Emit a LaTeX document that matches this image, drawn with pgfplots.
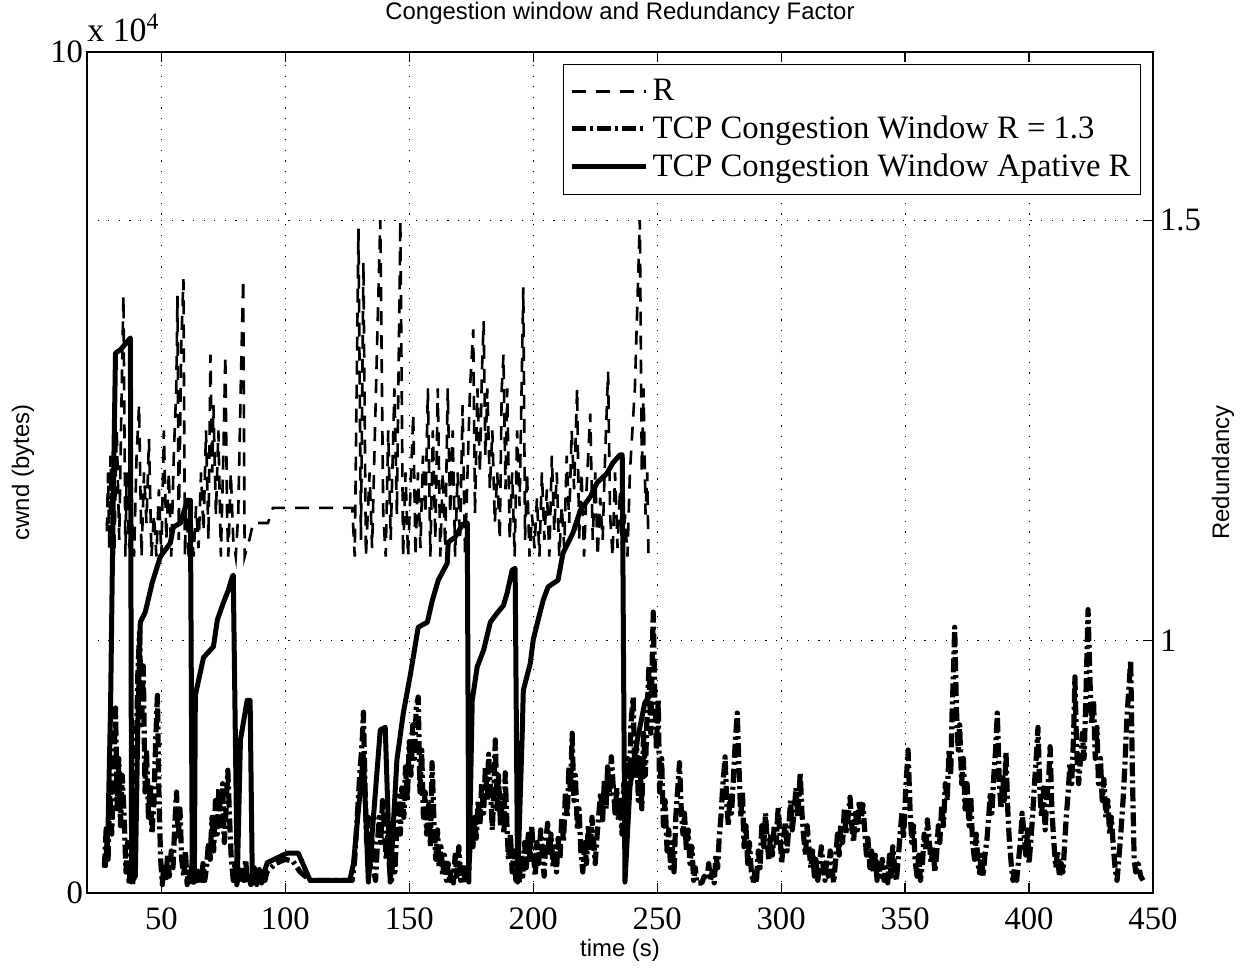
\documentclass[border=0pt]{standalone}
\usepackage{fontspec}
\setmainfont{Liberation Serif}
\newfontfamily\arial{Liberation Sans}
\usepackage{pgfplots}
\pgfplotsset{compat=1.18}
\begin{document}
\begin{tikzpicture}
\pgfplotsset{
  mygrid/.style={black, line width=0.5bp, dash pattern=on 0.6bp off 4.7bp},
}
\begin{axis}[
  at={(0,0)}, anchor=south west,
  scale only axis, width=533bp, height=420.5bp,
  xmin=20, xmax=450, ymin=0, ymax=100000,
  xtick={50,100,...,450},
  ytick={0,100000}, yticklabels={0,10},
  scaled y ticks=false,
  tick align=inside, xtick pos=both, ytick pos=left, xticklabel pos=lower,
  major tick length=5bp,
  tick style={black, line width=0.6bp},
  xmajorgrids, grid style={mygrid},
  axis line style={line width=0.8bp},
  /pgf/number format/assume math mode=true,
  tick label style={font=\fontsize{16.4}{19}\selectfont},
  xticklabel style={yshift=-4bp},
  yticklabel style={xshift=1.5bp},
  xlabel={time (s)},
  xlabel style={at={(axis description cs:0.5,-0.0678)}, anchor=center, font=\arial\fontsize{12}{14}\selectfont},
  ylabel={cwnd (bytes)},
  ylabel style={at={(axis description cs:-0.0600,0.5)}, anchor=center, font=\arial\fontsize{12}{14}\selectfont},
  title={Congestion window and Redundancy Factor},
  title style={at={(axis description cs:0.5,1.025)}, anchor=base, font=\arial\fontsize{12}{14}\selectfont},
  clip=true,
]
% TCP congestion window R = 1.3 (dash-dot)
\addplot[black, line width=2.6bp, line join=round, dash pattern=on 7bp off 2bp on 1.5bp off 2bp] coordinates {
(27,3000) (27.8,8000) (28.5,4000) (29.2,12000) (30,7000) (30.8,15000) (31.5,22000) (32.2,10000) (32.8,16000) (33.5,8000) (34.2,14000) (35,9000) (35.7,2500) (36.4,6000) (37,1000) (37.7,4000) (38.4,1000) (39,8000) (39.8,15000) (40.5,26000) (41.2,31000) (42,20000) (42.7,27000) (43.4,12000) (44,17000) (44.8,9000) (45.5,13000) (46.2,7000) (47,11000) (47.7,18000) (48.4,23500) (49,12000) (49.7,4000) (50.4,1000) (51,3500) (51.8,1500) (52.5,4500) (53.2,2000) (54,5000) (54.7,3000) (55.4,8000) (56.1,12000) (56.8,6500) (57.5,10000) (58.2,4000) (59,2000) (59.7,5000) (60.4,1000) (61,3000) (61.8,1000) (62.5,4000) (63.2,1500) (64,3000) (64.7,1000) (65.4,2500) (66,1000) (66.8,3500) (67.5,1500) (68.2,3000) (69,6000) (69.7,4000) (70.4,9000) (71.1,5000) (71.8,11000) (72.5,7000) (73.2,12500) (74,8000) (74.7,13000) (75.4,6000) (76.1,10000) (76.8,14600) (77.5,9000) (78.2,4000) (79,1500) (79.7,3500) (80.4,1000) (81.1,2500) (81.8,1200) (82.5,3000) (83.2,1500) (84,4000) (84.7,1200) (85.4,2000) (86.1,1000) (86.8,2500) (87.5,1200) (88.2,2800) (89,1000) (89.7,2200) (90.4,1200) (91.1,2500) (91.8,1500) (92.5,2500) (96,3500) (100,4000) (103,3800) (106,2500) (110,1500) (126,1500)
(127,1500) (128,4000) (129,9000) (130,14000) (131,18000) (131.5,21500) (132.2,12000) (132.8,6000) (133.5,9000) (134.2,3000) (135,6500) (135.7,2500) (136.4,1500) (137,5000) (137.8,9000) (138.5,6000) (139.2,11000) (140,7500) (140.7,4000) (141.4,7000) (142,3000) (142.8,1500) (143.5,5000) (144.2,2500) (145,8000) (145.7,11500) (146.4,7000) (147,12500) (147.8,9000) (148.5,15000) (149.2,11000) (150,18000) (150.7,14000) (151.4,20000) (152.1,16000) (152.8,22000) (153.6,23300) (154.3,12000) (155,17000) (155.7,9000) (156.4,12000) (157,7000) (157.8,10500) (158.5,5500) (159.2,15500) (160,8000) (160.7,4000) (161.4,7500) (162,3000) (162.8,5500) (163.5,2000) (164.2,4500) (165,1500) (165.7,3500) (166.4,1500) (167,3000) (167.8,1200) (168.5,4500) (169.2,2000) (170,5500) (170.7,1500) (171.4,3000) (172,1200) (172.8,3500) (173.5,1500)
(174,3000) (175,8000) (175.7,5500) (176.4,9000) (177,6500) (177.8,11000) (178.5,8000) (179.2,13000) (180,9500) (180.7,15000) (181.4,11000) (182,16500) (182.8,12000) (183.5,7500) (184.2,13000) (184.7,18200) (185.4,10000) (186,14000) (186.8,8000) (187.5,11000) (188.2,7000) (188.7,14300) (189.4,8000) (190,4000) (190.8,7000) (191.5,2500) (192.2,5000) (193,1500) (193.7,3500) (194.4,1200) (195,4500) (195.8,2000) (196.5,6000) (197.2,3000) (198,7000) (198.7,4000) (199.4,8000) (200,5000) (200.8,2000) (201.5,6000) (202.2,3500) (203,7500) (203.7,4500) (204.4,2000) (205,6000) (205.8,8300) (206.5,4500) (207.2,7000) (208,3000) (208.7,5500) (209.4,2500) (210,6500) (210.8,4000) (211.5,9000) (212.2,6000) (213,12000) (213.7,9000) (214.4,15000) (215,12000) (215.7,19000) (216.4,11000) (217,14000) (217.8,7500) (218.5,10000) (219.2,5000) (220,2500) (220.8,6000) (221.5,3500) (222.2,8000) (223,5000) (223.7,9000) (224.4,6000) (225,3500) (225.8,7000) (226.5,9500) (227.2,12000) (228,8700) (228.7,13500) (229.4,10000) (230,15000) (230.8,11500) (231.5,16200) (232.2,13000) (233,9500) (233.7,12500) (234.4,8500) (235,11000) (235.8,7000) (236.5,13000) (237.2,9000) (238,16000) (238.7,12000) (239.4,20000) (240.3,23300) (241,14000) (241.7,18000) (242.4,11000) (243,16000) (243.8,10000) (244.5,19000) (245.2,14000) (246,22000) (246.7,27000) (247.4,19000) (248.4,33400) (249,24000) (249.7,17000) (250.4,23000) (251,12000) (251.8,16000) (252.5,8000) (253.2,11000) (254,5000) (254.7,7500) (255.4,3000) (256,6000) (256.8,2500) (257.5,9000) (258.2,12000) (259,15500) (259.7,10000) (260.4,7000) (261,9500) (261.8,5000) (262.5,7500) (263.2,3500) (264,5500) (264.7,1500) (265.4,3000) (266,1200) (267,1200) (268,1200) (269,2000) (270,1500) (270.8,3500) (271.5,1500) (272.2,2500) (273,1200) (273.7,4500) (274.4,3000) (275,6500) (275.7,9000) (276.4,12500) (277.4,16200) (278,11000) (278.7,8000) (279.4,12000) (280,9500) (280.8,14000) (281.5,18000) (282.3,21400) (283,15000) (283.7,9000) (284.4,12000) (285,5500) (285.8,8000) (286.5,3500) (287.2,6000) (288,2500) (288.7,1200) (289.4,2500) (290,1200) (290.8,5000) (291.5,3000) (292.2,8000) (293,5500) (293.7,9500) (294.4,6000) (295,4000) (295.8,7000) (296.5,4500) (297.2,8000) (298,6000) (298.8,10200) (299.5,7000) (300.2,3500) (301,6500) (301.7,8500) (302.4,5000) (303,7500) (303.8,11000) (304.5,7500) (305.2,9500) (306,12500) (306.7,9000) (307.7,14300) (308.4,9500) (309,7000) (309.8,4500) (310.5,8000) (311.2,5500) (312,3000) (312.7,5000) (313.4,2000) (314,4000) (314.8,1500) (315.5,3500) (316.2,5500) (317,3000) (317.7,1500) (318.4,4000) (319,2000) (319.8,5000) (320.5,3000) (321.2,1200) (322,4000) (322.7,7000) (323.4,4500) (324,8000) (324.8,6000) (325.5,10000) (326.2,7000) (327,9000) (327.8,11400) (328.5,8000) (329.2,6000) (330,9500) (330.8,7500) (331.5,11000) (332.2,8500) (333,10500) (333.7,7500) (334.4,4500) (335,6500) (335.8,3000) (336.5,5000) (337.2,2500) (338,4500) (338.7,1500) (339.4,3500) (340,2000) (340.8,4000) (341.5,1500) (342.2,3000) (343,1200) (343.7,4500) (344.4,2000) (345,5500) (345.8,3000) (346.5,1500) (347.2,4000) (348,7000) (348.7,9500) (349.4,6500) (350.2,12000) (351.2,17000) (352,10000) (352.7,6000) (353.4,8000) (354,4000) (354.8,2000) (355.5,4500) (356.2,1500) (357,3500) (357.7,7000) (358.4,5000) (359,8700) (359.8,6000) (360.5,3500) (361.2,5500) (362,2500) (362.7,4500) (363.4,8000) (364,6000) (364.8,10500) (365.5,8000) (366.2,13000) (367,11000) (367.7,17000) (368.4,14000) (369,22000) (369.5,26000) (370,31600) (370.7,22000) (371.4,17000) (372,20000) (372.8,13000) (373.5,16000) (374.2,10000) (375,13000) (375.8,8000) (376.5,11400) (377.2,6000) (378,4000) (378.7,7000) (379.4,3500) (380,2400) (380.8,4500) (381.5,2000) (382.2,4500) (383,6300) (383.7,9000) (384.4,12000) (385,9500) (385.8,14000) (386.5,17000) (387.2,21400) (388,13000) (388.7,10000) (389.4,14000) (390,11000) (390.7,16800) (391.4,10000) (392,6500) (392.8,3500) (393.5,1500) (394.2,3000) (395,1500) (395.8,4000) (396.5,6000) (397.2,9500) (398,7000) (398.7,4500) (399.4,7500) (400,3500) (400.8,6500) (401.5,9500) (402.2,13000) (403,16500) (403.6,19700) (404.4,12000) (405,9000) (405.8,12500) (406.5,7500) (407.2,11500) (408,14000) (408.5,17400) (409.2,10000) (410,6000) (410.8,3000) (411.5,5000) (412.2,2000) (413,3500) (413.7,2500) (414.4,6000) (415,9000) (415.8,12000) (416.5,15500) (417.2,13000) (418,19000) (418.5,25700) (419.2,17000) (420,13000) (420.8,16000) (421.5,19000) (422.2,16000) (423,24000) (423.8,33700) (424.5,26000) (425.2,20000) (426,23000) (426.7,16000) (427.4,19700) (428,13000) (428.8,16000) (429.5,11000) (430.2,13500) (431,9000) (431.8,11000) (432.5,7000) (433.2,9000) (434,5500) (434.7,3000) (435.5,1500) (436.2,4000) (437,7000) (438,11400) (438.8,16000) (439.5,21000) (440.2,24000) (441,27700) (441.7,14000) (442.4,4000) (443,2500) (444,3500) (445,2000) (446,1500)
};
% TCP congestion window adaptive R (solid)
\addplot[black, line width=2.5bp, line join=round] coordinates {
(27.4,3100) (28.5,8000) (29.5,22000) (30.5,45000) (31.5,64200) (33.5,64600) (37.5,66000) (38,1300) (39.5,2000) (40.5,20000) (41.5,32200) (43.5,33400) (45.6,36000) (46.3,36900) (49.6,40000) (53.6,41600) (54.8,43500) (57.7,44000) (60.5,46700) (61.7,46700) (62.5,1300) (63.3,1300) (63.7,23500) (67,28000) (71,29300) (72.6,32500) (75,34500) (77,36000) (78.6,37600) (79,37800) (80.6,1300) (81.9,18200) (84.6,22900) (85.8,22900) (86.7,1300) (87.5,3000) (88.5,1000) (89.5,2800) (90.5,1200) (91.5,2500) (92.7,3600) (100.8,4750) (105.2,4750) (110,1500) (126,1500) (127.5,3500) (131.5,16400) (133.5,1300) (138.3,19400) (140.3,19700) (142.3,1300) (145,15800) (147.6,21400) (150.4,25900) (153.6,31600) (157.3,32200) (159.3,34800) (161.7,37200) (165.3,39200) (165.7,41700) (168.5,42300) (171.4,43800) (172.6,44000) (173.4,44000) (174,1300) (175.4,22900) (177.4,26900) (180,28900) (182.7,32200) (185.5,33300) (188,34200) (189.5,35700) (191.5,38400) (192.7,38600) (193.7,1300) (195.6,19400) (196,24100) (198.8,27300) (200,30100) (202,32500) (204,34800) (206,36400) (210,37200) (212,40400) (216,42800) (219,45500) (223,47100) (225.8,48800) (229.8,49900) (232,51100) (235,52100) (235.9,52100) (237,1300) (239,12600) (242,18200) (245,22600) (247,23500) (248.4,24500)
};
\end{axis}
\begin{axis}[
  at={(0,0)}, anchor=south west,
  scale only axis, width=533bp, height=420.5bp,
  xmin=20, xmax=450, ymin=0.7, ymax=1.7,
  axis x line=none, axis y line*=right,
  ytick={1,1.5},
  tick align=inside,
  major tick length=5bp,
  tick style={black, line width=0.6bp},
  axis line style={line width=0.8bp},
  ymajorgrids, grid style={mygrid},
  /pgf/number format/assume math mode=true,
  tick label style={font=\fontsize{16.4}{19}\selectfont},
  ylabel={Redundancy},
  ylabel style={at={(axis description cs:1.0657,0.5)}, anchor=center, rotate=0, font=\arial\fontsize{12}{14}\selectfont},
  legend image code/.code={\draw[#1] (0bp,0bp) -- (37bp,0bp);},
  legend style={at={(axis description cs:1,1)}, anchor=north east, xshift=-6bp, yshift=-6bp,
    draw=black, line width=0.5bp, fill=white, font=\fontsize{16.4}{19}\selectfont,
    cells={anchor=west}, row sep=2bp, inner xsep=3bp, inner ysep=5.5bp},
  clip=true,
]
\addplot[black, line width=1.3bp, dash pattern=on 7bp off 5bp] coordinates {
(28,1.13) (28.5,1.2) (29,1.11) (29.5,1.22) (30,1.15) (31,1.1) (32,1.25) (33,1.12) (34,1.3) (34.7,1.41) (35.5,1.1) (36,1.2) (37,1.11) (38,1.15) (39,1.1) (40,1.22) (41,1.28) (42,1.1) (43,1.2) (44,1.14) (45,1.24) (46,1.1) (47,1.15) (48,1.1) (49,1.18) (50,1.1) (51,1.25) (52,1.12) (53,1.2) (54,1.1) (55,1.22) (56,1.3) (56.5,1.41) (57,1.12) (58,1.35) (58.9,1.43) (59.5,1.1) (60,1.17) (61,1.1) (62,1.14) (63,1.1) (64,1.16) (65,1.11) (66,1.2) (67,1.13) (68,1.25) (69,1.12) (69.8,1.34) (70.5,1.2) (71,1.28) (72,1.15) (73,1.25) (74,1.1) (75,1.22) (75.8,1.34) (76.5,1.15) (77,1.1) (78,1.2) (79,1.12) (80,1.1) (81,1.15) (82,1.3) (83,1.43) (83.6,1.1) (84.5,1.11) (85.5,1.12) (87,1.14) (93,1.14) (95,1.158) (127,1.158) (128,1.1) (129.5,1.49) (130.5,1.12) (131.5,1.45) (132.5,1.1) (134,1.2) (135,1.11) (137,1.35) (138.3,1.5) (139.5,1.15) (140.5,1.1) (141.5,1.25) (142.5,1.12) (144,1.3) (145,1.15) (146.4,1.5) (147.5,1.1) (148.5,1.2) (149.5,1.1) (150.5,1.18) (151.6,1.27) (152.5,1.1) (153.5,1.2) (154.5,1.11) (155.5,1.22) (156.5,1.15) (157.5,1.3) (158.5,1.1) (159.5,1.25) (160.5,1.12) (161.5,1.3) (162.5,1.1) (163.5,1.2) (164.5,1.11) (165.5,1.3) (166.5,1.15) (167.5,1.25) (168.5,1.1) (169.5,1.2) (170.5,1.12) (171.5,1.28) (172.5,1.1) (173.5,1.2) (174.5,1.3) (175.8,1.37) (176.5,1.15) (177.5,1.3) (178.5,1.2) (179.3,1.32) (180,1.38) (180.7,1.22) (181.5,1.3) (182.5,1.18) (183.5,1.25) (184.5,1.14) (185.5,1.2) (186.5,1.12) (187.3,1.3) (188,1.34) (188.8,1.18) (189.5,1.3) (190.5,1.12) (191.5,1.2) (192.5,1.1) (193.5,1.25) (194.5,1.16) (195.3,1.3) (196,1.42) (196.7,1.12) (197.5,1.2) (198.5,1.1) (199.5,1.15) (200.5,1.11) (201.5,1.17) (202.5,1.1) (203.5,1.2) (204.5,1.12) (205.5,1.18) (206.5,1.1) (207.5,1.22) (208.5,1.13) (209.5,1.2) (210.5,1.1) (211.5,1.16) (212.5,1.11) (213.5,1.22) (214.5,1.14) (215.5,1.25) (216.5,1.18) (217.7,1.3) (218.5,1.12) (219.5,1.2) (220.5,1.1) (221.5,1.18) (223,1.27) (224,1.12) (225,1.2) (226,1.1) (227,1.17) (228,1.12) (229,1.22) (230.2,1.32) (231,1.15) (232,1.1) (233,1.2) (234,1.11) (235,1.18) (236,1.1) (237,1.15) (238,1.1) (239,1.2) (240,1.25) (241,1.3) (242,1.4) (243,1.5) (243.8,1.2) (244.5,1.3) (245.3,1.15) (246,1.2) (246.5,1.1)
};
\addlegendentry{R}
\addlegendimage{black, line width=2.6bp, dash pattern=on 7bp off 2bp on 1.5bp off 2bp}
\addlegendentry{TCP Congestion Window R = 1.3}
\addlegendimage{black, line width=2.5bp}
\addlegendentry{TCP Congestion Window Apative R}
\end{axis}
\node[anchor=base west, font=\fontsize{17}{20}\selectfont, inner sep=0pt] at (0bp,425.5bp) {x 10\textsuperscript{4}};
\pgfresetboundingbox
\path[use as bounding box] (-43.5bp,-37.5bp) rectangle (578.5bp,446.5bp);
\end{tikzpicture}
\end{document}
